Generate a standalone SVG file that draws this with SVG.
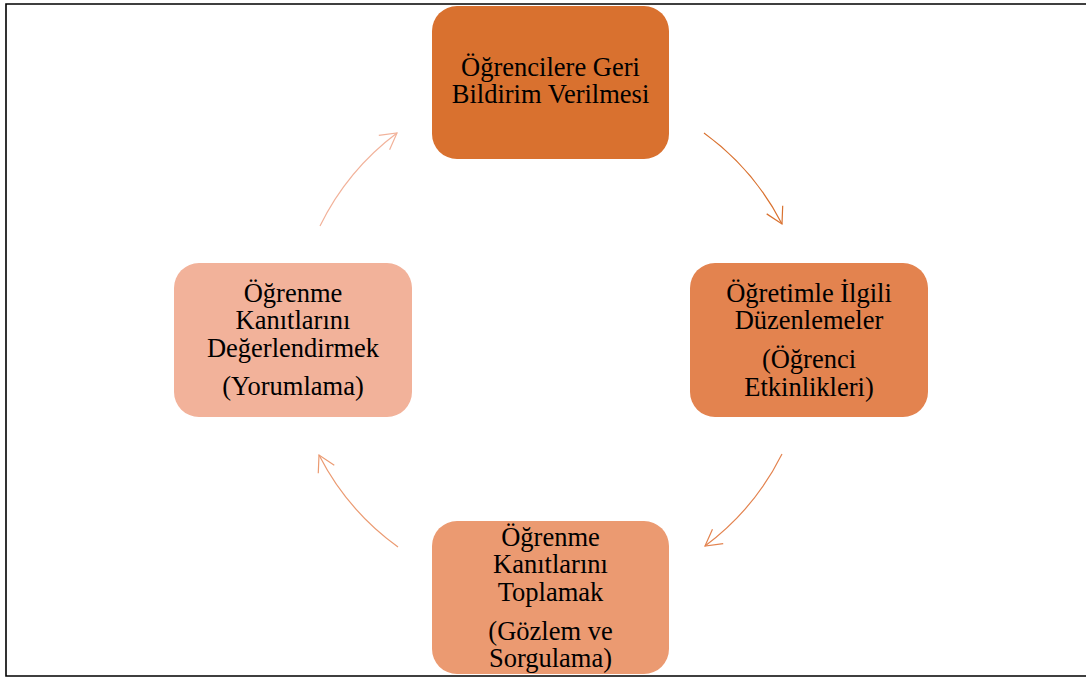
<svg xmlns="http://www.w3.org/2000/svg" width="1086" height="677" viewBox="0 0 1086 677">
  <style>
    .node rect { stroke: none; }
    .lbl { font-family: "Liberation Serif", "Times New Roman", serif; font-size: 26.5px; fill: #000; text-anchor: middle; }
    .conn path { fill: none; stroke-width: 1.2; }
    .frame { fill: none; stroke: #000; stroke-width: 1.6; }
  </style>
  <defs>
    <marker id="a1" markerUnits="userSpaceOnUse" markerWidth="30" markerHeight="30" refX="0" refY="0" viewBox="-20 -15 30 30" orient="auto" overflow="visible">
      <path d="M -16,-9 L 0,0 L -16,9" fill="none" stroke="#D9712F" stroke-width="1.2"/>
    </marker>
    <marker id="a2" markerUnits="userSpaceOnUse" markerWidth="30" markerHeight="30" refX="0" refY="0" viewBox="-20 -15 30 30" orient="auto" overflow="visible">
      <path d="M -16,-9 L 0,0 L -16,9" fill="none" stroke="#E3834F" stroke-width="1.2"/>
    </marker>
    <marker id="a3" markerUnits="userSpaceOnUse" markerWidth="30" markerHeight="30" refX="0" refY="0" viewBox="-20 -15 30 30" orient="auto" overflow="visible">
      <path d="M -16,-9 L 0,0 L -16,9" fill="none" stroke="#EB9A71" stroke-width="1.2"/>
    </marker>
    <marker id="a4" markerUnits="userSpaceOnUse" markerWidth="30" markerHeight="30" refX="0" refY="0" viewBox="-20 -15 30 30" orient="auto" overflow="visible">
      <path d="M -16,-9 L 0,0 L -16,9" fill="none" stroke="#F2B29A" stroke-width="1.2"/>
    </marker>
  </defs>
  <rect width="1086" height="677" fill="#fff"/>
  <path class="frame" d="M1090,4 H6 V676 H1090"/>

  <g id="connectors" class="conn">
    <path d="M704,133 A258,258 0 0 1 782,224" stroke="#D9712F" marker-end="url(#a1)"/>
    <path d="M782,454 A258,258 0 0 1 705,546" stroke="#E3834F" marker-end="url(#a2)"/>
    <path d="M398,547 A258,258 0 0 1 319,455" stroke="#EB9A71" marker-end="url(#a3)"/>
    <path d="M320,226 A258,258 0 0 1 397,133" stroke="#F2B29A" marker-end="url(#a4)"/>
  </g>

  <g id="node-top" class="node">
    <rect x="432" y="6" width="237" height="153" rx="25" fill="#D9712F"/>
    <text class="lbl" x="550.5" y="76">Öğrencilere Geri</text>
    <text class="lbl" x="550.5" y="103">Bildirim Verilmesi</text>
  </g>

  <g id="node-right" class="node">
    <rect x="690" y="263" width="238" height="154" rx="25" fill="#E3834F"/>
    <text class="lbl" x="809" y="302">Öğretimle İlgili</text>
    <text class="lbl" x="809" y="329">Düzenlemeler</text>
    <text class="lbl" x="809" y="368">(Öğrenci</text>
    <text class="lbl" x="809" y="396">Etkinlikleri)</text>
  </g>

  <g id="node-bottom" class="node">
    <rect x="432" y="521" width="237" height="153" rx="25" fill="#EB9A71"/>
    <text class="lbl" x="550.5" y="546">Öğrenme</text>
    <text class="lbl" x="550.5" y="573">Kanıtlarını</text>
    <text class="lbl" x="550.5" y="601">Toplamak</text>
    <text class="lbl" x="550.5" y="640">(Gözlem ve</text>
    <text class="lbl" x="550.5" y="667">Sorgulama)</text>
  </g>

  <g id="node-left" class="node">
    <rect x="174" y="263" width="238" height="154" rx="25" fill="#F2B29A"/>
    <text class="lbl" x="293" y="302">Öğrenme</text>
    <text class="lbl" x="293" y="329">Kanıtlarını</text>
    <text class="lbl" x="293" y="357">Değerlendirmek</text>
    <text class="lbl" x="293" y="395">(Yorumlama)</text>
  </g>
</svg>
